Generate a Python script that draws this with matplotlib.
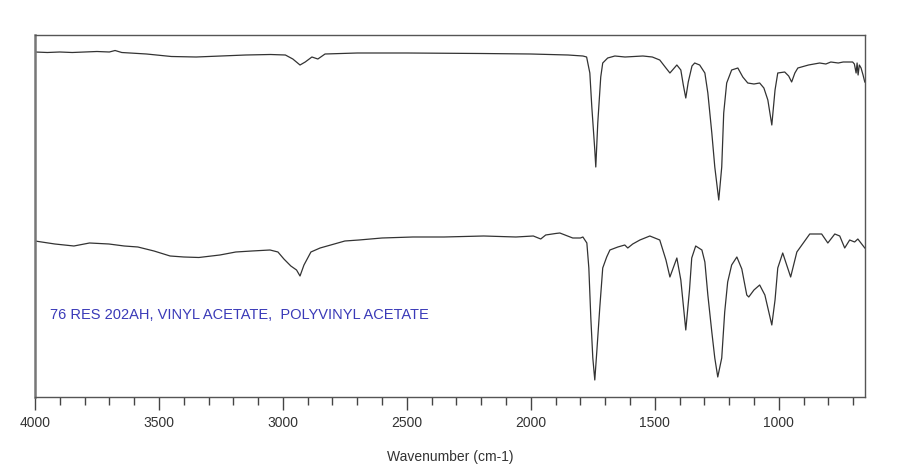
import numpy as np
import matplotlib.pyplot as plt
from matplotlib.ticker import MultipleLocator

# Top spectrum: polyvinyl acetate reference (wavenumber, relative signal)
top_wn = [4000, 3950, 3900, 3850, 3800, 3750, 3700, 3677, 3650, 3550, 3450, 3350,
          3250, 3150, 3050, 2990, 2960, 2931, 2910, 2883, 2859, 2830, 2700, 2500,
          2200, 2000, 1850, 1790, 1775, 1762, 1754, 1742, 1738, 1730, 1718, 1710,
          1690, 1661, 1620, 1548, 1510, 1480, 1455, 1439, 1411, 1395, 1385, 1375,
          1365, 1350, 1339, 1319, 1298, 1286, 1270, 1258, 1242, 1230, 1222, 1210,
          1190, 1165, 1145, 1125, 1100, 1077, 1060, 1044, 1028, 1015, 1004, 976,
          960, 948, 935, 923, 880, 835, 810, 790, 760, 740, 720, 702,
          695, 688, 684, 680, 675, 668, 660, 653]
top_val = [345, 344.5, 345, 344.5, 345, 345.5, 345, 346.5, 344.5, 343, 340.5, 340,
           341, 342, 342.5, 342, 338, 332, 335, 340, 338, 343, 344, 344,
           343.5, 343, 342, 341, 340, 324, 290, 247, 230, 274, 320, 334,
           339, 341, 340, 341, 340, 337, 329, 324, 332, 327, 312, 299,
           315, 331, 334, 332, 324, 304, 264, 230, 197, 230, 284, 314,
           327, 329, 320, 314, 313, 314, 309, 297, 272, 307, 324, 325,
           321, 315, 324, 329, 332, 334, 333, 335, 334, 335, 335, 335,
           333, 324, 334, 322, 332, 329, 322, 315]

# Bottom spectrum: sample 76 RES 202AH
bot_wn = [4000, 3920, 3843, 3780, 3702, 3640, 3585, 3520, 3455, 3400, 3339, 3254,
          3190, 3125, 3052, 3020, 2996, 2968, 2945, 2931, 2915, 2887, 2850, 2807,
          2750, 2693, 2600, 2476, 2350, 2190, 2060, 1990, 1960, 1940, 1900, 1883,
          1831, 1800, 1790, 1774, 1766, 1758, 1750, 1742, 1734, 1722, 1710, 1694,
          1681, 1649, 1621, 1609, 1589, 1560, 1520, 1480, 1455, 1439, 1411, 1395,
          1375, 1360, 1351, 1335, 1310, 1298, 1286, 1270, 1258, 1246, 1230, 1218,
          1206, 1190, 1169, 1149, 1129, 1121, 1100, 1077, 1056, 1028, 1015, 1004,
          984, 952, 927, 875, 827, 802, 774, 754, 734, 714, 694, 681, 653]
bot_val = [156, 153, 151, 154, 153, 151, 150, 146, 141, 140, 139.5, 142,
           145, 146, 147, 145, 138, 131, 127, 121, 132, 145, 149, 152,
           156, 157, 159, 160, 160, 161, 160, 161, 158, 162, 163.5, 164,
           159, 159, 160, 154, 129, 79, 39, 17, 45, 89, 129, 140,
           147, 150, 152, 149, 153, 157, 161, 157, 137, 120, 139, 117,
           67, 107, 139, 151, 147, 135, 102, 65, 39, 20, 39, 85,
           115, 132, 140, 128, 102, 100, 107, 112, 102, 72, 97, 129,
           144, 120, 145, 163, 163, 154, 163, 161, 149, 157, 155, 158, 149]

label_text = "76 RES 202AH, VINYL ACETATE,  POLYVINYL ACETATE"

plt.rcParams['font.family'] = ['Liberation Sans', 'DejaVu Sans']

fig = plt.figure(figsize=(9.18, 4.73), dpi=100)
ax = fig.add_axes([0.0381, 0.1607, 0.9042, 0.7653])

ax.plot(top_wn, top_val, color="#333333", lw=0.9)
ax.plot(bot_wn, bot_val, color="#333333", lw=0.9)

ax.set_xlim(4000, 652)
ax.set_ylim(0, 362)

ax.xaxis.set_major_locator(MultipleLocator(500))
ax.xaxis.set_minor_locator(MultipleLocator(100))
ax.tick_params(axis="x", which="major", direction="out", length=9, width=1,
               color="#444444", labelsize=10, labelcolor="#333333", pad=5)
ax.tick_params(axis="x", which="minor", direction="out", length=6, width=1,
               color="#444444")
ax.set_yticks([])

for side in ["top", "right", "bottom"]:
    ax.spines[side].set_color("#555555")
    ax.spines[side].set_linewidth(1)
ax.spines["left"].set_color("#777777")
ax.spines["left"].set_linewidth(1.8)

ax.set_xlabel("Wavenumber (cm-1)", fontsize=10, color="#333333", labelpad=14)

ax.text(0.018, 0.227, label_text, transform=ax.transAxes, fontsize=10.5,
        color="#3a3ab8", va="center", ha="left")

fig.savefig("out.png", dpi=100)
